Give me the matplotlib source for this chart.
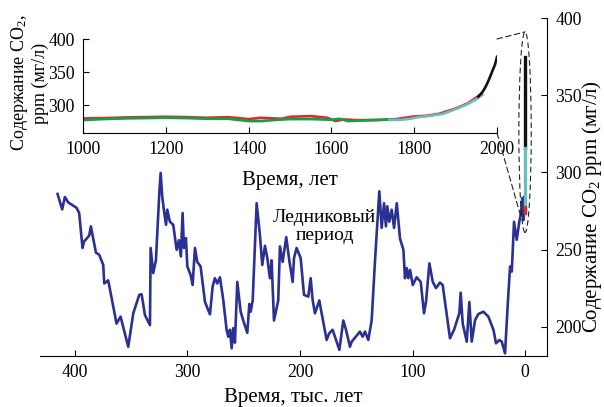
"""CO2 over the last 420 kyr (Vostok ice core) with an inset for 1000-2000 AD."""
import matplotlib
matplotlib.use("Agg")
import matplotlib.pyplot as plt
from matplotlib.patches import Ellipse, ConnectionPatch

plt.rcParams["font.family"] = ["Liberation Serif", "DejaVu Serif"]
plt.rcParams["mathtext.fontset"] = "custom"
plt.rcParams["mathtext.rm"] = "Liberation Serif"
plt.rcParams["mathtext.it"] = "Liberation Serif:italic"

# ---- ice core record, thousand years before present ----
age_kyr = [415.4, 411.3, 408.9, 405.9, 398.5, 396.2, 393.2, 392.0, 387.3, 385.8,
           381.3, 378.4, 374.8, 373.9, 370.4, 363.0, 359.4, 352.6, 348.1, 342.8,
           340.7, 337.8, 333.3, 332.7, 330.4, 328.0, 325.0, 323.8, 322.4, 321.0,
           319.0, 317.9, 315.6, 312.6, 309.6, 307.6, 305.8, 304.3, 303.1, 301.3,
           300.1, 297.2, 295.4, 293.3, 291.3, 288.3, 284.4, 280.0, 277.6, 275.6,
           273.5, 271.1, 268.1, 265.2, 263.7, 262.2, 260.7, 259.3, 257.8, 255.7,
           252.7, 250.4, 246.8, 245.0, 243.8, 242.0, 238.5, 235.6, 233.5, 231.1,
           229.0, 226.7, 225.2, 223.1, 219.3, 217.8, 215.4, 212.2, 209.5, 206.5,
           205.3, 203.0, 199.4, 196.4, 192.6, 190.5, 188.7, 186.7, 182.8, 181.6,
           176.3, 174.0, 171.0, 168.9, 165.0, 161.5, 159.1, 155.6, 154.0, 146.7,
           144.3, 142.2, 139.3, 136.3, 133.3, 129.5, 127.4, 125.3, 123.6, 122.4,
           120.6, 118.5, 116.4, 114.0, 111.1, 108.1, 106.7, 105.2, 103.7, 102.2,
           99.8, 96.3, 92.7, 89.8, 88.0, 85.0, 82.0, 79.1, 75.6, 73.2,
           66.7, 63.1, 58.4, 57.2, 55.4, 51.8, 49.5, 47.4, 44.4, 41.5,
           37.0, 32.6, 28.1, 25.8, 22.8, 20.7, 17.8, 14.8, 13.3, 11.8,
           9.8, 7.4, 5.1, 3.8, 2.4, 1.5, 0.6]
co2_ice = [286, 276, 284, 280.5, 277, 273.6, 251, 255, 259, 265,
           248, 246.6, 240, 228, 230, 202, 206.5, 187, 208.7, 220.6,
           221, 207.6, 201, 251, 234.7, 243, 286.6, 299.6, 284.4, 276,
           266, 275.8, 268, 266, 249.8, 256, 245.5, 273.6, 251, 257.4,
           239, 233.6, 227, 251, 242, 239, 216, 208, 226, 231.4,
           228, 232, 217, 198, 193.5, 198, 186, 199, 189.6, 229,
           209.7, 204, 196, 214.7, 209.7, 217, 280, 259.5, 240, 252.4,
           244.4, 231.4, 243, 204, 217, 252, 242, 258, 243, 229,
           244.4, 251, 244.4, 220.6, 219.5, 231.4, 217, 208.7, 217, 212,
           191.4, 195.7, 198, 193.5, 185, 204, 198, 187, 190.3, 196.8,
           193.5, 196.8, 191.4, 204, 243, 287.7, 264, 280, 265, 278,
           268, 275.8, 264, 280, 257, 249.8, 231.4, 238, 231.4, 236.8,
           227, 232, 229, 208.7, 216, 241, 229, 225, 228.6, 227,
           192.5, 198, 208.7, 222, 202, 190.3, 216, 190.3, 204.3, 208.2,
           209.7, 206.5, 198, 189.2, 191.4, 190.3, 182.7, 221.7, 239, 235.7,
           268, 256.3, 268, 272.5, 283.4, 269, 284]

# modern records squeezed into the present (0 kyr)
modern_black = [316, 375]
modern_cyan = [277, 316]
modern_red = [273.5, 277.5]

# ---- inset: last millennium, years AD ----
red_years = [1000, 1050, 1100, 1150, 1200, 1250, 1300, 1350, 1400, 1430, 1460,
             1480, 1500, 1550, 1590, 1610, 1630, 1660, 1700, 1750, 1800, 1830,
             1860, 1900, 1930, 1960]
red_co2 = [280, 280.5, 281.5, 282, 282.5, 282, 281, 282, 279, 281, 280,
           279.5, 282.5, 283.5, 281, 276, 278.5, 277.5, 277.5, 278.5, 283, 284,
           287, 295, 303, 316]
green_years = [1000, 1050, 1100, 1150, 1200, 1250, 1300, 1350, 1400, 1430,
               1460, 1500, 1550, 1600, 1620, 1640, 1660, 1700, 1750]
green_co2 = [277.5, 279, 280, 280.5, 281, 280.5, 279.5, 279.5, 276, 276,
             277.5, 279, 279, 278, 279.5, 276, 276.5, 277.5, 278.5]
cyan_years = [1740, 1770, 1790, 1810, 1840, 1870, 1900, 1930, 1950, 1965]
cyan_co2 = [277.5, 278, 279.5, 282, 284, 287, 294, 302, 309, 316]
black_years = [1955, 1960, 1965, 1970, 1975, 1980, 1985, 1990, 1995, 2000]
black_co2 = [313, 316.5, 320, 325, 331, 338, 345.5, 353.5, 361, 373]

BLUE = "#2b3192"
RED = "#e8262a"
GREEN = "#13a04a"
CYAN = "#66c0c0"
TICK_FS = 12.8
LABEL_FS = 15
TEXT_FS = 14

fig = plt.figure(figsize=(6.04, 4.07), dpi=100)

# ---- main axes ----
ax = fig.add_axes([40 / 604, 1 - 356 / 407, 507 / 604, 338 / 407])
ax.plot(age_kyr, co2_ice, color=BLUE, lw=1.9, zorder=3)
ax.plot([0, 0], modern_black, color="#111", lw=2.4, zorder=4)
ax.plot([0, 0], modern_cyan, color=CYAN, lw=2.4, zorder=4)
ax.plot([0, 0], modern_red, color=RED, lw=2.4, zorder=4)
ax.set_xlim(431, -19.5)
ax.set_ylim(181, 400)
ax.set_xticks([400, 300, 200, 100, 0])
ax.set_yticks([200, 250, 300, 350, 400])
ax.yaxis.tick_right()
for s in ("left", "top"):
    ax.spines[s].set_visible(False)
for s in ("bottom", "right"):
    ax.spines[s].set_linewidth(0.8)
ax.tick_params(direction="in", length=4, width=0.8, labelsize=TICK_FS, pad=6)
ax.set_xlabel("Время, тыс. лет", fontsize=LABEL_FS, labelpad=5)
ax.text(178, 265, "Ледниковый\nпериод", fontsize=TEXT_FS, ha="center",
        va="center", linespacing=1.05)
ax.add_patch(Ellipse((0, 326), width=11, height=130, fill=False,
                     ls=(0, (5, 3)), lw=0.8, color="#222", zorder=5))
fig.text(592 / 604, 1 - 207 / 407, "Содержание CO$_2$ ppm (мг/л)",
         rotation=90, ha="center", va="center", fontsize=LABEL_FS)

# ---- inset ----
ax_in = fig.add_axes([83 / 604, 1 - 133 / 407, 414 / 604, 94 / 407])
ax_in.plot(red_years, red_co2, color=RED, lw=1.9)
ax_in.plot(green_years, green_co2, color=GREEN, lw=1.9)
ax_in.plot(cyan_years, cyan_co2, color=CYAN, lw=1.9)
ax_in.plot(black_years, black_co2, color="#111", lw=1.9)
ax_in.set_xlim(1000, 2000)
ax_in.set_ylim(258, 400)
ax_in.set_xticks(range(1000, 2001, 200))
ax_in.set_yticks([300, 350, 400])
ax_in.patch.set_alpha(0)
for s in ("right", "top"):
    ax_in.spines[s].set_visible(False)
for s in ("left", "bottom"):
    ax_in.spines[s].set_linewidth(0.8)
ax_in.tick_params(direction="in", length=4, width=0.8, labelsize=TICK_FS, pad=6)
ax_in.set_xlabel("Время, лет", fontsize=LABEL_FS, labelpad=9)
fig.text(29 / 604, 1 - 83 / 407, "Содержание CO$_2$,\nppm (мг/л)",
         rotation=90, ha="center", va="center", ma="center", fontsize=13,
         linespacing=1.1)

# dashed connectors from the inset corner to the ellipse
for a, b in (((2000, 400), (0, 391)), ((2000, 258), (4, 272))):
    con = ConnectionPatch(xyA=a, coordsA=ax_in.transData, xyB=b,
                          coordsB=ax.transData, ls=(0, (5, 3)), lw=0.8,
                          color="#222")
    fig.add_artist(con)

fig.savefig("out.png", dpi=100)
